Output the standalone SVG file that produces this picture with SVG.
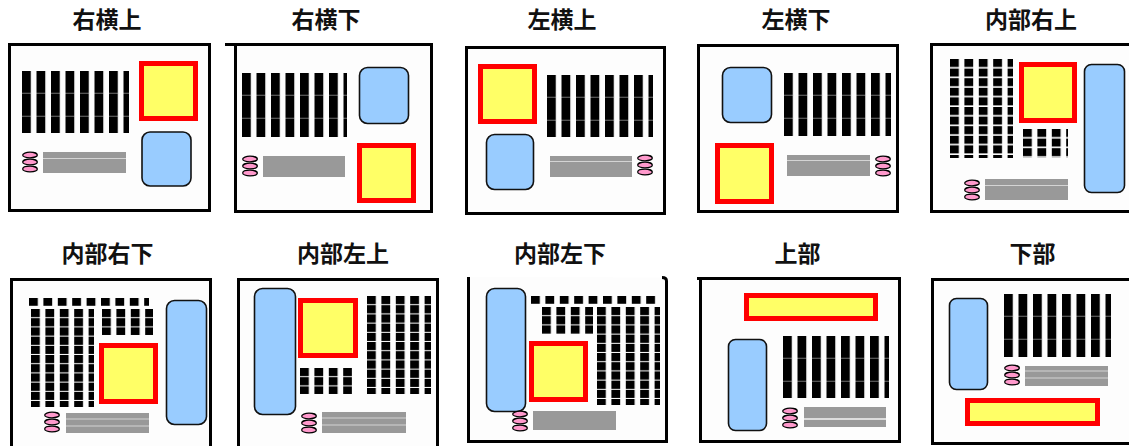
<svg xmlns="http://www.w3.org/2000/svg" width="1129" height="446" viewBox="0 0 1129 446">
<defs>
<style>
.t{font-family:"Noto Sans CJK JP","Noto Sans CJK SC",sans-serif;font-size:23px;font-weight:700;fill:#111;text-anchor:middle}
.fr{fill:#fdfdfd;stroke:#000;stroke-width:3}
.y{fill:#ffff66;stroke:#ff0000;stroke-width:5}
.b{fill:#99ccff;stroke:#111;stroke-width:1.6}
.g{fill:#999999}
.gl{stroke:#d4d4d4;stroke-width:1.2}
.c{fill:#ff99cc;stroke:#000;stroke-width:1.3}
</style>
<pattern id="ks" patternUnits="userSpaceOnUse" width="14.5" height="23">
<rect width="8.8" height="23" fill="#000"/>
<rect y="21.8" width="8.8" height="0.8" fill="#8a8a8a"/>
</pattern>
<pattern id="kq" patternUnits="userSpaceOnUse" width="14.4" height="9.6">
<rect width="8.8" height="8" fill="#000"/>
</pattern>
<pattern id="kr" patternUnits="userSpaceOnUse" width="14.4" height="9.2">
<rect width="8.8" height="8.2" fill="#000"/>
</pattern>
<g id="coil">
<ellipse class="c" cx="8" cy="3" rx="7.3" ry="2.8"/>
<ellipse class="c" cx="8" cy="10" rx="7.3" ry="2.8"/>
<ellipse class="c" cx="8" cy="17" rx="7.3" ry="2.8"/>
</g>
</defs>
<rect width="1129" height="446" fill="#ffffff"/>

<g id="p1">
<text class="t" x="107" y="28">右横上</text>
<rect class="fr" x="9.5" y="44.5" width="200" height="166"/>
<g transform="translate(22,71)"><rect width="107" height="62" fill="url(#ks)"/></g>
<rect class="y" x="141.5" y="63.5" width="54" height="55"/>
<rect class="b" x="142" y="132" width="49" height="54" rx="8"/>
<use href="#coil" x="22" y="152"/>
<rect class="g" x="43" y="152" width="83" height="21"/>
<line class="gl" x1="43" y1="158.5" x2="126" y2="158.5"/>
</g>

<g id="p2">
<text class="t" x="326" y="28">右横下</text>
<line x1="225" y1="44.5" x2="236" y2="44.5" stroke="#000" stroke-width="3"/>
<rect class="fr" x="235.5" y="44.5" width="196" height="167"/>
<g transform="translate(242,73)"><rect width="105" height="64" fill="url(#ks)"/></g>
<rect class="b" x="359.5" y="67.5" width="49" height="56" rx="8"/>
<rect class="y" x="359.5" y="145.5" width="54" height="55"/>
<use href="#coil" x="242" y="156"/>
<rect class="g" x="263" y="156" width="82" height="21"/>
</g>

<g id="p3">
<text class="t" x="562" y="28">左横上</text>
<rect class="fr" x="466.5" y="47.5" width="198" height="166"/>
<rect class="y" x="480.5" y="66.5" width="54" height="55"/>
<rect class="b" x="486.5" y="134.5" width="47" height="55" rx="8"/>
<g transform="translate(547,75)"><rect width="106" height="62" fill="url(#ks)"/></g>
<rect class="g" x="550" y="156" width="82" height="21"/>
<line class="gl" x1="550" y1="161.5" x2="632" y2="161.5"/>
<use href="#coil" x="637" y="155"/>
</g>

<g id="p4">
<text class="t" x="796" y="28">左横下</text>
<rect class="fr" x="698.5" y="45.5" width="199" height="166"/>
<rect class="b" x="722.5" y="67.5" width="49" height="55" rx="8"/>
<g transform="translate(784,73)"><rect width="107" height="63" fill="url(#ks)"/></g>
<rect class="y" x="717.5" y="145.5" width="54" height="56"/>
<rect class="g" x="787" y="155" width="83" height="21"/>
<line class="gl" x1="787" y1="160.5" x2="870" y2="160.5"/>
<use href="#coil" x="875" y="156"/>
</g>

<g id="p5">
<text class="t" x="1031" y="28">内部右上</text>
<rect class="fr" x="931.5" y="44.5" width="205" height="167"/>
<g transform="translate(950,59)"><rect width="63" height="99" fill="url(#kq)"/></g>
<g transform="translate(1023,129)"><rect width="45" height="29" fill="url(#kq)"/></g>
<rect class="y" x="1021.5" y="64.5" width="53" height="56"/>
<rect class="b" x="1084.5" y="64.5" width="40" height="128" rx="7"/>
<use href="#coil" x="964" y="180"/>
<rect class="g" x="985" y="179" width="83" height="21"/>
<line class="gl" x1="985" y1="185.5" x2="1068" y2="185.5"/>
</g>

<g id="p6">
<text class="t" x="107.5" y="262">内部右下</text>
<rect class="fr" x="11.5" y="279.5" width="199" height="200"/>
<g transform="translate(29,298)"><rect width="120" height="8" fill="url(#kq)"/></g>
<g transform="translate(31,309)"><rect width="63" height="98" fill="url(#kr)"/></g>
<g transform="translate(102,309)"><rect width="51" height="26" fill="url(#kr)"/></g>
<rect class="y" x="101.5" y="345.5" width="54" height="56"/>
<rect class="b" x="166.5" y="300.5" width="40" height="124" rx="8"/>
<use href="#coil" x="44" y="412"/>
<rect class="g" x="66" y="413" width="83" height="20"/>
<line class="gl" x1="66" y1="419" x2="149" y2="419"/>
<line class="gl" x1="66" y1="426" x2="149" y2="426"/>
</g>

<g id="p7">
<text class="t" x="343" y="262">内部左上</text>
<rect class="fr" x="238.5" y="279.5" width="199" height="200"/>
<rect class="b" x="254.5" y="288.5" width="41" height="126" rx="8"/>
<rect class="y" x="300.5" y="300.5" width="55" height="55"/>
<g transform="translate(367,296)"><rect width="64" height="98" fill="url(#kr)"/></g>
<g transform="translate(300,368)"><rect width="52" height="26" fill="url(#kr)"/></g>
<use href="#coil" x="301" y="413"/>
<rect class="g" x="322" y="412" width="84" height="21"/>
<line class="gl" x1="322" y1="418" x2="406" y2="418"/>
<line class="gl" x1="322" y1="425" x2="406" y2="425"/>
</g>

<g id="p8">
<text class="t" x="560" y="262">内部左下</text>
<path d="M468.5,277 V441.5 H666.5 V281 Q666.5,277.5 662,277.5" fill="#fdfdfd" stroke="#000" stroke-width="3"/>
<rect class="b" x="486.5" y="288.5" width="39" height="123" rx="8"/>
<g transform="translate(531,296)"><rect width="125" height="8" fill="url(#kq)"/></g>
<g transform="translate(542,307)"><rect width="51" height="27" fill="url(#kr)"/></g>
<g transform="translate(597,307)"><rect width="63" height="98" fill="url(#kr)"/></g>
<rect class="y" x="531.5" y="343.5" width="54" height="56"/>
<use href="#coil" x="512" y="411"/>
<rect class="g" x="533" y="411" width="83" height="19"/>
</g>

<g id="p9">
<text class="t" x="797.5" y="262">上部</text>
<line x1="697" y1="278.5" x2="702" y2="278.5" stroke="#000" stroke-width="3"/>
<rect class="fr" x="700.5" y="278.5" width="199" height="163"/>
<rect class="y" x="746.5" y="295.5" width="129" height="23"/>
<rect class="b" x="728.5" y="339.5" width="38" height="91" rx="7"/>
<g transform="translate(783,336)"><rect width="106" height="62" fill="url(#ks)"/></g>
<use href="#coil" x="782" y="408"/>
<rect class="g" x="804" y="407" width="82" height="20"/>
<line x1="804" y1="419" x2="886" y2="419" stroke="#f4f4f4" stroke-width="1.5"/>
</g>

<g id="p10">
<text class="t" x="1032.5" y="262">下部</text>
<rect class="fr" x="932.5" y="279.5" width="205" height="164"/>
<rect class="b" x="949.5" y="298.5" width="38" height="91" rx="7"/>
<g transform="translate(1004,294)"><rect width="107" height="63" fill="url(#ks)"/></g>
<use href="#coil" x="1004" y="365"/>
<rect class="g" x="1025" y="366" width="83" height="20"/>
<line class="gl" x1="1025" y1="371" x2="1108" y2="371"/>
<line class="gl" x1="1025" y1="378" x2="1108" y2="378"/>
<rect class="y" x="967.5" y="400.5" width="130" height="23"/>
</g>
</svg>
